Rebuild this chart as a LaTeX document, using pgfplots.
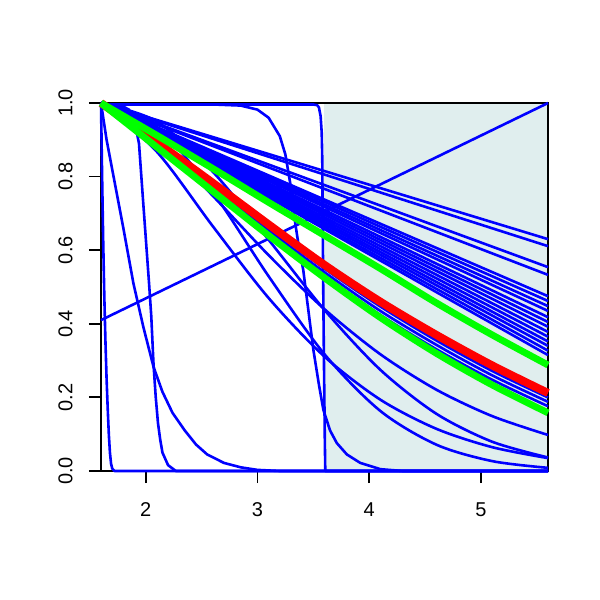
\documentclass[border=0pt]{standalone}
\usepackage{fontspec}
\setmainfont{Liberation Sans}
\usepackage{pgfplots}
\pgfplotsset{compat=1.18}
\definecolor{shade}{RGB}{224,238,238}
\definecolor{rblue}{RGB}{0,0,255}
\definecolor{rred}{RGB}{255,0,0}
\definecolor{rgreen}{RGB}{0,255,0}
\begin{document}
\begin{tikzpicture}
\begin{axis}[
  set layers,
  at={(0,0)}, anchor=south west,
  scale only axis, width=223.5pt, height=184pt,
  xmin=1.6, xmax=5.6, ymin=0, ymax=1,
  clip=false,
  axis line style={black, line width=0.9pt},
  xtick={2,3,4,5}, xticklabels={2,3,4,5},
  ytick={0,0.2,0.4,0.6,0.8,1}, yticklabels={0.0,0.2,0.4,0.6,0.8,1.0},
  tick align=outside, xtick pos=left, ytick pos=left,
  major tick length=6pt,
  tick style={black, line width=0.9pt},
  /pgf/number format/assume math mode=true,
  tick label style={font=\fontsize{10}{12}\selectfont},
  xticklabel style={anchor=center, yshift=-13.5pt},
  yticklabel style={anchor=center, xshift=-11.7pt, rotate=90},
  bl/.style={rblue, line width=1.3pt, line join=round},
]
% shaded region
\addplot[fill=shade, draw=none, on layer=axis background] coordinates {(3.6,0) (5.6,0) (5.6,1) (3.6,1)} -- cycle;

% fan of near-linear curves
\addplot[bl] coordinates {(1.6,1) (5.6,0.630)};
\addplot[bl] coordinates {(1.6,1) (5.6,0.611)};
\addplot[bl] coordinates {(1.6,1) (5.6,0.554)};
\addplot[bl] coordinates {(1.6,1) (5.6,0.533)};
\addplot[bl] coordinates {(1.6,1) (5.6,0.475)};
\addplot[bl] coordinates {(1.6,1) (5.6,0.462)};
\addplot[bl] coordinates {(1.6,1) (5.6,0.448)};
\addplot[bl] coordinates {(1.6,1) (5.6,0.435)};
\addplot[bl] coordinates {(1.6,1) (5.6,0.418)};
\addplot[bl] coordinates {(1.6,1) (5.6,0.405)};
\addplot[bl] coordinates {(1.6,1) (5.6,0.392)};
\addplot[bl] coordinates {(1.6,1) (5.6,0.378)};
\addplot[bl] coordinates {(1.6,1) (5.6,0.365)};
\addplot[bl] coordinates {(1.6,1) (5.6,0.352)};
\addplot[bl] coordinates {(1.6,1) (5.6,0.340)};
\addplot[bl] coordinates {(1.6,1) (5.6,0.327)};
\addplot[bl] coordinates {(1.6,1) (5.6,0.315)};

% curves just under the red one
\addplot[bl, smooth] coordinates {(1.6,1) (2.1,0.890) (2.6,0.778) (3.1,0.663) (3.6,0.550) (4.1,0.447) (4.6,0.355) (5.1,0.272) (5.6,0.200)};
\addplot[bl, smooth] coordinates {(1.6,1) (2.1,0.887) (2.6,0.772) (3.1,0.655) (3.6,0.540) (4.1,0.435) (4.6,0.343) (5.1,0.260) (5.6,0.188)};
\addplot[bl, smooth] coordinates {(1.6,1) (2.1,0.884) (2.6,0.766) (3.1,0.647) (3.6,0.530) (4.1,0.424) (4.6,0.331) (5.1,0.248) (5.6,0.176)};

% lower curves
\addplot[bl, smooth] coordinates {(1.6,1) (2.1,0.9024) (2.6,0.7479) (3.1,0.5865) (3.6,0.4397) (4.1,0.3172) (4.6,0.2211) (5.1,0.1492) (5.6,0.0979)};
\addplot[bl, smooth] coordinates {(1.6,1) (2.1,0.9497) (2.6,0.8133) (3.1,0.6282) (3.6,0.4376) (4.1,0.2749) (4.6,0.1557) (5.1,0.0796) (5.6,0.0367)};
\addplot[bl, smooth] coordinates {(1.6,1) (2.1,0.8675) (2.6,0.6653) (3.1,0.4701) (3.6,0.3108) (4.1,0.1938) (4.6,0.1148) (5.1,0.0648) (5.6,0.0350)};
\addplot[bl, smooth] coordinates {(1.6,1) (2.1,0.9353) (2.6,0.7579) (3.1,0.5292) (3.6,0.3173) (4.1,0.1631) (4.6,0.0717) (5.1,0.0269) (5.6,0.0086)};

% rising straight line
\addplot[bl] coordinates {(1.6,0.41) (5.6,1.0)};

% step near 3.6
\addplot[bl] coordinates {(1.6,0.996) (3.5,0.996) (3.535,0.994) (3.55,0.988) (3.565,0.965) (3.575,0.92) (3.58,0.85) (3.587,0.55) (3.595,0.3) (3.603,0.08) (3.607,0) (5.6,0)};
% late drop
\addplot[bl] coordinates {(1.6,0.996) (2.6,0.996) (2.85,0.993) (3.0,0.982) (3.1,0.96) (3.2,0.91) (3.25,0.86) (3.3,0.77) (3.33,0.69) (3.37,0.61) (3.41,0.546) (3.45,0.45) (3.5,0.33) (3.55,0.235) (3.59,0.166) (3.65,0.11) (3.71,0.076) (3.8,0.045) (3.92,0.022) (4.1,0.005) (4.3,0) (5.6,0)};
% very fast drop at the left
\addplot[bl] coordinates {(1.6,0.996) (1.605,0.9) (1.61,0.8) (1.62,0.62) (1.63,0.47) (1.64,0.35) (1.65,0.25) (1.66,0.17) (1.67,0.1) (1.68,0.05) (1.69,0.02) (1.70,0.007) (1.72,0) (5.6,0)};
% drop near 2
\addplot[bl] coordinates {(1.6,0.996) (1.75,0.994) (1.8,0.99) (1.85,0.982) (1.9,0.95) (1.94,0.89) (1.98,0.72) (2.03,0.51) (2.05,0.42) (2.07,0.29) (2.09,0.2) (2.11,0.13) (2.13,0.085) (2.15,0.05) (2.2,0.016) (2.27,0) (5.6,0)};
% fast decay
\addplot[bl] coordinates {(1.6,1) (1.65,0.9) (1.7,0.82) (1.8,0.66) (1.89,0.51) (1.98,0.39) (2.07,0.283) (2.15,0.215) (2.24,0.158) (2.35,0.11) (2.45,0.072) (2.55,0.045) (2.7,0.022) (2.85,0.01) (3.0,0.003) (3.2,0) (5.6,0)};

% red estimate
\addplot[rred, line width=4pt, line join=round, smooth] coordinates {(1.6,1) (2.1,0.893) (2.6,0.783) (3.1,0.670) (3.6,0.560) (4.1,0.460) (4.6,0.370) (5.1,0.287) (5.6,0.212)};
% green bounds
\addplot[rgreen, line width=3.4pt, line join=round, smooth] coordinates {(1.6,1) (2.1,0.912) (2.6,0.822) (3.1,0.730) (3.6,0.640) (4.1,0.550) (4.6,0.457) (5.1,0.370) (5.6,0.288)};
\addplot[rgreen, line width=3.4pt, line join=round, smooth] coordinates {(1.6,1) (2.1,0.880) (2.6,0.760) (3.1,0.640) (3.6,0.525) (4.1,0.417) (4.6,0.320) (5.1,0.234) (5.6,0.158)};
\end{axis}
\pgfresetboundingbox
\path[use as bounding box] (-50.5pt,-64.5pt) rectangle (249.5pt,235.5pt);
\end{tikzpicture}
\end{document}
